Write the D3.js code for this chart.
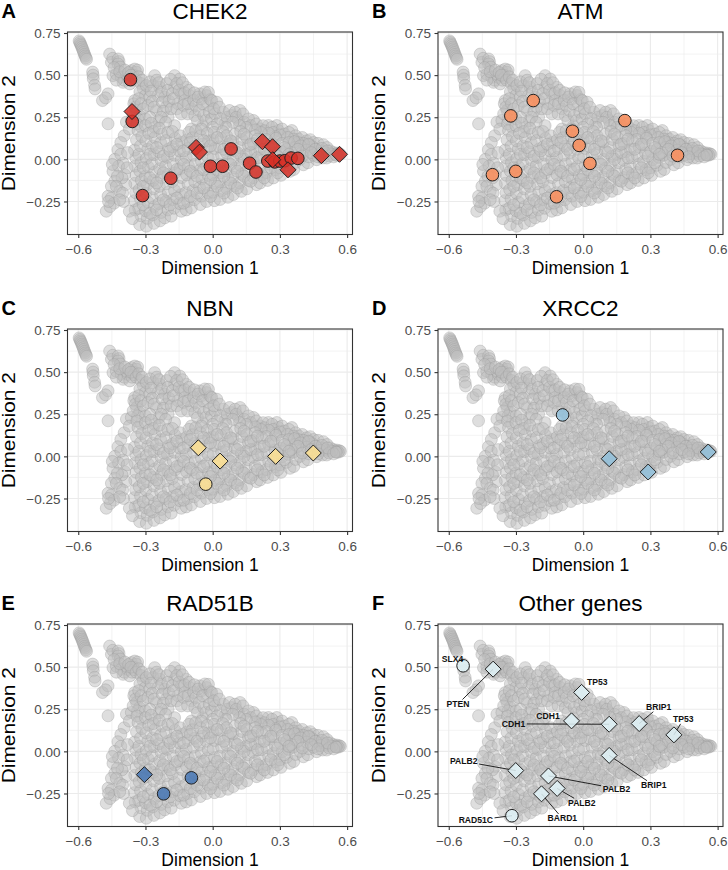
<!DOCTYPE html>
<html><head><meta charset="utf-8">
<script src="https://cdn.jsdelivr.net/npm/d3@7"></script>
<style>body{margin:0;background:#fff} svg{display:block;font-family:"Liberation Sans",Arial,Helvetica,sans-serif}</style>
</head><body>
<svg id="chart" width="728" height="870"></svg>
<script>
// ---------------- DATA ----------------
// background cloud (all genes), shared by every panel: [dimension1, dimension2]
const grayPoints = [
[-0.596,0.703],[-0.593,0.694],[-0.590,0.685],[-0.587,0.676],[-0.584,0.666],[-0.581,0.656],[-0.578,0.645],[-0.575,0.634],[-0.572,0.623],[-0.569,0.613],[-0.566,0.603],[-0.563,0.594],
[-0.536,0.518],[-0.534,0.500],[-0.533,0.478],[-0.527,0.440],[-0.525,0.418],[-0.492,0.349],[-0.467,0.389],[-0.478,0.365],[-0.467,0.211],
[-0.460,0.625],[-0.452,0.576],[-0.446,0.600],[-0.422,0.596],[-0.418,0.580],[-0.422,0.566],[-0.412,0.548],[-0.445,0.497],[-0.430,0.505],[-0.408,0.487],[-0.400,0.457],[-0.395,0.470],[-0.378,0.487],[-0.385,0.505],[-0.363,0.527],[-0.348,0.536],[-0.340,0.517],[-0.355,0.500],[-0.370,0.448],[-0.360,0.470],[-0.350,0.485],[-0.335,0.530],
[-0.440,0.545],[-0.430,0.470],[-0.415,0.520],[-0.392,0.530],[-0.375,0.515],[-0.365,0.500],[-0.342,0.470],[-0.330,0.490],[-0.320,0.450],[-0.310,0.420],[-0.325,0.400],[-0.300,0.380],[-0.315,0.470],
[-0.385,0.221],[-0.363,0.231],[-0.348,0.349],[-0.352,0.330],[-0.340,0.290],[-0.345,0.310],[-0.326,0.260],[-0.318,0.191],[-0.335,0.240],[-0.355,0.270],[-0.330,0.360],[-0.320,0.330],[-0.310,0.300],[-0.300,0.240],[-0.395,0.140],[-0.410,0.100],[-0.372,0.180],[-0.338,0.210],
[-0.296,0.438],[-0.259,0.497],[-0.266,0.438],[-0.281,0.369],[-0.289,0.320],[-0.236,0.428],[-0.244,0.379],[-0.251,0.290],[-0.214,0.369],[-0.207,0.310],[-0.199,0.251],[-0.170,0.497],[-0.147,0.477],[-0.170,0.428],[-0.140,0.389],[-0.155,0.330],[-0.118,0.428],[-0.103,0.379],[-0.125,0.349],[-0.095,0.300],[-0.058,0.389],[-0.051,0.359],[-0.028,0.379],[-0.021,0.320],[-0.044,0.200],[-0.095,0.180],[-0.170,0.200],[-0.259,0.190],[-0.333,0.170],
[-0.280,0.460],[-0.275,0.405],[-0.270,0.345],[-0.262,0.310],[-0.250,0.470],[-0.240,0.455],[-0.228,0.400],[-0.225,0.340],[-0.220,0.285],[-0.205,0.450],[-0.200,0.410],[-0.195,0.345],[-0.188,0.475],[-0.185,0.300],[-0.180,0.390],[-0.175,0.360],[-0.160,0.450],[-0.160,0.300],[-0.150,0.410],[-0.140,0.270],[-0.135,0.455],[-0.130,0.320],[-0.125,0.395],[-0.112,0.270],[-0.110,0.330],[-0.105,0.410],[-0.085,0.350],[-0.082,0.395],[-0.080,0.260],[-0.075,0.320],[-0.068,0.230],[-0.065,0.370],[-0.060,0.290],[-0.045,0.330],[-0.040,0.260],[-0.035,0.400],[-0.030,0.230],[-0.015,0.280],[-0.010,0.355],[-0.005,0.240],
[-0.240,0.230],[-0.230,0.250],[-0.210,0.220],[-0.280,0.250],[-0.300,0.200],[-0.275,0.215],
[-0.019,0.398],[-0.004,0.349],[0.018,0.339],[0.010,0.270],[0.048,0.280],[0.085,0.260],[0.122,0.290],[0.115,0.231],[0.055,0.211],[0.182,0.231],[0.211,0.181],[0.249,0.201],[0.286,0.201],[0.293,0.171],[0.353,0.171],[0.005,0.300],[0.030,0.310],[0.035,0.240],[0.065,0.250],[0.075,0.290],[0.100,0.280],[0.105,0.250],[0.135,0.270],[0.140,0.220],[0.160,0.240],[0.170,0.200],[0.195,0.210],[0.225,0.200],[0.230,0.170],[0.265,0.190],[0.270,0.160],[0.310,0.180],[0.320,0.150],[0.340,0.160],[0.370,0.140],[0.385,0.120],[0.400,0.130],[0.420,0.110],[0.435,0.117],[0.450,0.100],[0.470,0.095],[0.494,0.087],[0.510,0.070],[0.525,0.050],[0.540,0.040],[0.555,0.037],[0.565,0.033],[0.570,0.030],[0.560,0.025],[0.548,0.028],[0.532,0.030],[0.515,0.035],[0.500,0.040],[0.485,0.050],[0.460,0.060],[0.445,0.075],[0.430,0.085],[0.405,0.095],[0.380,0.100],[0.360,0.120],[0.335,0.130],[0.300,0.145],[0.280,0.135],[0.250,0.155],[0.215,0.160],[0.190,0.175],[0.150,0.190],[0.120,0.200],[0.090,0.220],[0.060,0.190],[0.020,0.210],[0.000,0.190],
[-0.346,-0.300],[-0.350,-0.245],[-0.344,-0.198],[-0.348,-0.142],[-0.342,-0.095],[-0.346,-0.040],[-0.343,0.008],[-0.349,0.055],[-0.340,0.115],
[-0.326,-0.387],[-0.320,-0.335],[-0.330,-0.290],[-0.322,-0.235],[-0.328,-0.180],[-0.318,-0.125],[-0.325,-0.070],[-0.320,-0.020],[-0.330,0.030],[-0.322,0.080],[-0.316,0.135],
[-0.296,-0.397],[-0.292,-0.350],[-0.300,-0.305],[-0.288,-0.255],[-0.298,-0.200],[-0.292,-0.150],[-0.300,-0.100],[-0.288,-0.045],[-0.296,0.005],[-0.290,0.060],[-0.298,0.110],[-0.285,0.155],
[-0.262,-0.380],[-0.268,-0.330],[-0.260,-0.280],[-0.270,-0.228],[-0.262,-0.175],[-0.266,-0.125],[-0.258,-0.075],[-0.270,-0.025],[-0.262,0.028],[-0.268,0.080],[-0.258,0.130],[-0.265,0.165],
[-0.235,-0.365],[-0.230,-0.315],[-0.240,-0.262],[-0.232,-0.210],[-0.238,-0.160],[-0.228,-0.108],[-0.236,-0.055],[-0.230,-0.005],[-0.240,0.045],[-0.232,0.098],[-0.226,0.150],[-0.238,0.185],
[-0.214,-0.347],[-0.200,-0.300],[-0.208,-0.250],[-0.198,-0.195],[-0.206,-0.145],[-0.200,-0.090],[-0.210,-0.040],[-0.202,0.012],[-0.196,0.062],[-0.208,0.112],[-0.200,0.160],
[-0.185,-0.337],[-0.172,-0.290],[-0.178,-0.238],[-0.170,-0.185],[-0.180,-0.132],[-0.168,-0.080],[-0.176,-0.028],[-0.170,0.025],[-0.178,0.075],[-0.168,0.125],[-0.180,0.165],
[-0.140,-0.308],[-0.148,-0.262],[-0.142,-0.210],[-0.150,-0.160],[-0.138,-0.108],[-0.146,-0.055],[-0.140,-0.002],[-0.148,0.050],[-0.138,0.100],[-0.145,0.140],
[-0.118,-0.300],[-0.112,-0.250],[-0.120,-0.198],[-0.110,-0.145],[-0.116,-0.092],[-0.108,-0.040],[-0.118,0.012],[-0.110,0.065],[-0.116,0.115],[-0.106,0.160],
[-0.095,-0.288],[-0.082,-0.240],[-0.088,-0.185],[-0.080,-0.132],[-0.090,-0.080],[-0.078,-0.028],[-0.086,0.025],[-0.080,0.078],[-0.090,0.128],[-0.076,0.170],
[-0.055,-0.268],[-0.050,-0.218],[-0.058,-0.168],[-0.048,-0.115],[-0.056,-0.062],[-0.050,-0.010],[-0.058,0.040],[-0.046,0.090],[-0.054,0.140],[-0.050,0.180],
[-0.027,-0.250],[-0.020,-0.200],[-0.028,-0.148],[-0.018,-0.095],[-0.026,-0.042],[-0.020,0.010],[-0.028,0.060],[-0.018,0.110],[-0.024,0.155],
[0.008,-0.245],[0.002,-0.195],[0.010,-0.142],[0.000,-0.090],[0.008,-0.038],[0.002,0.015],[0.010,0.065],[0.000,0.115],[0.006,0.160],
[0.033,-0.238],[0.040,-0.185],[0.030,-0.132],[0.038,-0.080],[0.032,-0.028],[0.040,0.025],[0.030,0.075],[0.038,0.125],[0.045,0.165],
[0.068,-0.225],[0.062,-0.172],[0.070,-0.120],[0.060,-0.068],[0.068,-0.015],[0.062,0.038],[0.070,0.090],[0.062,0.140],
[0.092,-0.209],[0.098,-0.158],[0.090,-0.105],[0.100,-0.052],[0.092,0.000],[0.098,0.052],[0.090,0.105],[0.100,0.150],
[0.128,-0.190],[0.120,-0.140],[0.130,-0.088],[0.122,-0.035],[0.128,0.018],[0.120,0.070],[0.130,0.118],[0.125,0.165],
[0.152,-0.175],[0.160,-0.125],[0.150,-0.072],[0.158,-0.020],[0.150,0.030],[0.160,0.082],[0.152,0.130],
[0.196,-0.150],[0.182,-0.108],[0.190,-0.058],[0.180,-0.005],[0.190,0.045],[0.182,0.095],[0.190,0.140],
[0.212,-0.140],[0.220,-0.092],[0.210,-0.042],[0.218,0.010],[0.210,0.060],[0.220,0.110],
[0.245,-0.125],[0.240,-0.078],[0.250,-0.028],[0.242,0.022],[0.250,0.072],[0.240,0.118],
[0.271,-0.110],[0.280,-0.062],[0.270,-0.012],[0.278,0.038],[0.270,0.088],[0.282,0.125],
[0.305,-0.095],[0.300,-0.050],[0.310,-0.002],[0.302,0.048],[0.310,0.095],
[0.345,-0.071],[0.330,-0.035],[0.338,0.012],[0.330,0.060],[0.340,0.100],
[0.362,-0.060],[0.370,-0.018],[0.360,0.025],[0.368,0.070],[0.365,0.105],
[0.405,-0.032],[0.390,0.000],[0.398,0.040],[0.392,0.080],
[0.425,-0.020],[0.430,0.015],[0.420,0.055],[0.428,0.090],
[0.464,-0.002],[0.450,0.025],[0.458,0.060],
[0.490,0.008],[0.480,0.035],[0.488,0.065],
[0.509,0.008],[0.520,0.020],[0.512,0.050],
[0.540,0.015],[0.552,0.025],
[-0.423,0.057],[-0.437,0.000],[-0.445,-0.071],[-0.437,-0.130],[-0.452,-0.160],[-0.467,-0.219],[-0.452,-0.229],[-0.475,-0.308],[-0.400,-0.022],[-0.393,-0.091],[-0.388,-0.150],[-0.415,-0.189],[-0.372,-0.308],[-0.358,-0.352],[-0.410,0.030],[-0.420,-0.040],[-0.405,-0.110],[-0.425,-0.100],[-0.430,-0.160],[-0.402,-0.200],[-0.440,-0.260],[-0.458,-0.280],[-0.398,-0.250],[-0.382,-0.050],[-0.380,0.040],[-0.448,-0.030],[-0.415,-0.240],[-0.465,-0.250],
[-0.310,-0.270],[-0.280,-0.320],[-0.250,-0.300],[-0.220,-0.240],[-0.190,-0.270],[-0.160,-0.230],[-0.130,-0.260],[-0.100,-0.220],[-0.070,-0.200],[-0.040,-0.170],[-0.010,-0.220],[0.020,-0.160],[0.050,-0.200],[0.080,-0.140],[0.110,-0.170],[0.140,-0.100],[0.170,-0.130],[0.200,-0.080],[0.230,-0.110],[0.260,-0.050],[0.290,-0.080],[0.320,-0.020],[0.350,0.040],[0.380,0.060],
[-0.310,-0.160],[-0.280,-0.110],[-0.250,-0.140],[-0.220,-0.080],[-0.190,-0.110],[-0.160,-0.060],[-0.130,-0.030],[-0.100,-0.070],[-0.070,-0.100],[-0.040,-0.060],[-0.010,-0.120],[0.020,-0.060],[0.050,-0.100],[0.080,-0.030],[0.110,-0.070],[0.140,0.000],[0.170,0.040],[0.200,0.010],[0.230,0.060],[0.260,0.090],[0.290,0.020],
[-0.310,-0.050],[-0.280,0.030],[-0.250,0.070],[-0.220,0.020],[-0.190,0.050],[-0.160,0.090],[-0.130,0.050],[-0.100,0.100],[-0.070,0.060],[-0.040,0.110],[-0.010,0.080],[0.020,0.130],[0.050,0.060],[0.080,0.110],[0.110,0.040],[0.140,0.150],[0.170,0.090],[0.200,0.120],[0.320,0.070],[0.340,0.030],[0.400,0.020],[0.440,0.040],[0.470,0.015]
];

const panelTitles  = ["CHEK2", "ATM", "NBN", "XRCC2", "RAD51B", "Other genes"];
const panelLetters = ["A", "B", "C", "D", "E", "F"];
const panelColors  = ["#d73027", "#fc8d59", "#fee090", "#91bfdb", "#4575b4", "#e0f3f8"];

// highlighted variants per gene: circles and diamonds [dimension1, dimension2]
const chek2Circles  = [[-0.367,0.473],[-0.359,0.225],[-0.313,-0.215],[-0.187,-0.112],[-0.010,-0.041],[0.044,-0.041],[0.082,0.062],[0.165,-0.023],[0.193,-0.075],[0.246,-0.010],[0.277,-0.015],[0.300,-0.010],[0.322,-0.008],[0.350,0.008],[0.380,0.006]];
const chek2Diamonds = [[-0.360,0.284],[-0.074,0.071],[-0.059,0.043],[0.222,0.105],[0.267,0.075],[0.268,-0.002],[0.336,-0.062],[0.485,0.022],[0.566,0.030]];
const atmCircles    = [[-0.223,0.349],[-0.323,0.258],[-0.048,0.167],[-0.018,0.083],[0.186,0.230],[0.030,-0.024],[0.421,0.024],[-0.405,-0.091],[-0.301,-0.071],[-0.119,-0.222]];
const atmDiamonds   = [];
const nbnCircles    = [[-0.031,-0.165]];
const nbnDiamonds   = [[-0.064,0.051],[0.033,-0.028],[0.281,0.000],[0.449,0.020]];
const xrcc2Circles  = [[-0.092,0.246]];
const xrcc2Diamonds = [[0.116,-0.014],[0.290,-0.093],[0.558,0.026]];
const rad51bCircles = [[-0.219,-0.252],[-0.095,-0.157]];
const rad51bDiamonds= [[-0.305,-0.138]];

// panel F: other genes, with label anchor positions (data units)
const otherGenes   = ["SLX4","RAD51C","PTEN","TP53","CDH1","CDH1","BRIP1","TP53","BRIP1","PALB2","PALB2","PALB2","BARD1"];
const otherShape   = ["circle","circle","diamond","diamond","diamond","diamond","diamond","diamond","diamond","diamond","diamond","diamond","diamond"];
const otherX       = [-0.536,-0.318,-0.402,-0.007,-0.052,0.116,0.250,0.405,0.116,-0.301,-0.155,-0.116,-0.186];
const otherY       = [0.508,-0.382,0.488,0.350,0.181,0.161,0.165,0.098,-0.024,-0.114,-0.146,-0.220,-0.252];
const otherLabelX  = [-0.583,-0.479,-0.559,0.0625,-0.157,-0.311,0.337,0.447,0.315,-0.533,0.149,-0.006,-0.093];
const otherLabelY  = [0.551,-0.408,0.281,0.409,0.207,0.163,0.262,0.190,-0.201,-0.059,-0.221,-0.305,-0.398];
const otherSegment = [false,true,true,false,false,true,true,true,true,true,true,true,true];

const xTicks = [-0.6, -0.3, 0, 0.3, 0.6];
const xTickLabels = ["\u22120.6", "\u22120.3", "0.0", "0.3", "0.6"];
const yTicks = [-0.25, 0, 0.25, 0.5, 0.75];
const yTickLabels = ["\u22120.25", "0.00", "0.25", "0.50", "0.75"];
const xTitle = "Dimension 1", yTitle = "Dimension 2";

// ---------------- DRAW ----------------
const svg = d3.select("#chart");
svg.append("rect").attr("width",728).attr("height",870).attr("fill","#fff");
const colLeft = [67.5, 438], rowTop = [32, 329, 624];
const plotW = 285, plotH = 202.5;
const xDom = [-0.648, 0.624], yDom = [-0.446, 0.756];

const highlight = [
  [chek2Circles, chek2Diamonds], [atmCircles, atmDiamonds], [nbnCircles, nbnDiamonds],
  [xrcc2Circles, xrcc2Diamonds], [rad51bCircles, rad51bDiamonds],
  [otherX.map((v,i)=>[v,otherY[i]]).filter((d,i)=>otherShape[i]==="circle"),
   otherX.map((v,i)=>[v,otherY[i]]).filter((d,i)=>otherShape[i]==="diamond")]
];
const mid = a => a.slice(1).map((v,i)=>(v+a[i])/2);
const diamond = s => `M0,${-s}L${s},0L0,${s}L${-s},0Z`;

panelTitles.forEach((title, i) => {
  const col = i % 2, row = Math.floor(i / 2);
  const L = colLeft[col], T = rowTop[row];
  const x = d3.scaleLinear().domain(xDom).range([0, plotW]);
  const y = d3.scaleLinear().domain(yDom).range([plotH, 0]);
  const g = svg.append("g").attr("transform", `translate(${L},${T})`);

  // grid
  const grid = g.append("g");
  grid.selectAll(".mx").data(mid(xTicks)).join("line").attr("x1",d=>x(d)).attr("x2",d=>x(d)).attr("y1",0).attr("y2",plotH).attr("stroke","#ebebeb").attr("stroke-width",0.6);
  grid.selectAll(".my").data(mid(yTicks)).join("line").attr("y1",d=>y(d)).attr("y2",d=>y(d)).attr("x1",0).attr("x2",plotW).attr("stroke","#ebebeb").attr("stroke-width",0.6);
  grid.selectAll(".Mx").data(xTicks).join("line").attr("x1",d=>x(d)).attr("x2",d=>x(d)).attr("y1",0).attr("y2",plotH).attr("stroke","#ebebeb").attr("stroke-width",1.1);
  grid.selectAll(".My").data(yTicks).join("line").attr("y1",d=>y(d)).attr("y2",d=>y(d)).attr("x1",0).attr("x2",plotW).attr("stroke","#ebebeb").attr("stroke-width",1.1);

  // background cloud
  g.append("g").selectAll("circle").data(grayPoints).join("circle")
    .attr("cx",d=>x(d[0])).attr("cy",d=>y(d[1])).attr("r",6)
    .attr("fill","#bdbdbd").attr("fill-opacity",0.5)
    .attr("stroke","#9a9a9a").attr("stroke-opacity",0.45).attr("stroke-width",0.8);

  const [circ, diam] = highlight[i];
  const color = panelColors[i];

  // labels + segments for panel F
  let labelLayer = null;
  if (i === 5) {
    const segLayer = g.append("g");
    labelLayer = g.append("g");
    otherGenes.forEach((name, k) => {
      const lx = x(otherLabelX[k]), ly = y(otherLabelY[k]);
      const px = x(otherX[k]), py = y(otherY[k]);
      const t = labelLayer.append("text").attr("x", lx).attr("y", ly).attr("dy","0.35em")
        .attr("text-anchor","middle").attr("font-size",8.6).attr("font-weight","bold").attr("fill","#111").text(name);
      if (!otherSegment[k]) return;
      const bb = t.node().getBBox();
      const hw = bb.width/2 + 1.5, hh = 4.5;
      const dx = px - lx, dy = py - ly;
      let tt = Infinity;
      if (dx !== 0) tt = Math.min(tt, hw/Math.abs(dx));
      if (dy !== 0) tt = Math.min(tt, hh/Math.abs(dy));
      if (tt < 1) {
        segLayer.append("line").attr("x1",lx + dx*tt).attr("y1",ly + dy*tt).attr("x2",px).attr("y2",py)
          .attr("stroke","#111").attr("stroke-width",0.9);
      }
    });
  }

  // highlighted points
  const hg = g.append("g");
  hg.selectAll("circle").data(circ).join("circle")
    .attr("cx",d=>x(d[0])).attr("cy",d=>y(d[1])).attr("r",6.3)
    .attr("fill",color).attr("fill-opacity",0.85).attr("stroke","#222").attr("stroke-width",1);
  hg.selectAll("path").data(diam).join("path")
    .attr("transform",d=>`translate(${x(d[0])},${y(d[1])})`).attr("d",diamond(8))
    .attr("fill",color).attr("fill-opacity",0.85).attr("stroke","#222").attr("stroke-width",1);
  if (labelLayer) labelLayer.raise();

  // border
  g.append("rect").attr("width",plotW).attr("height",plotH).attr("fill","none").attr("stroke","#333").attr("stroke-width",1.1);

  // axes
  const ax = g.append("g").attr("transform",`translate(0,${plotH})`)
    .call(d3.axisBottom(x).tickValues(xTicks).tickFormat((d,k)=>xTickLabels[k]).tickSize(3.5).tickSizeOuter(0));
  ax.select(".domain").remove();
  ax.selectAll("line").attr("stroke","#333").attr("stroke-width",1.1);
  ax.selectAll("text").attr("y",19.5).attr("dy",null).attr("fill","#4d4d4d").attr("font-size",13.5).attr("font-family",null);
  const ay = g.append("g")
    .call(d3.axisLeft(y).tickValues(yTicks).tickFormat((d,k)=>yTickLabels[k]).tickSize(3.5).tickSizeOuter(0));
  ay.select(".domain").remove();
  ay.selectAll("line").attr("stroke","#333").attr("stroke-width",1.1);
  ay.selectAll("text").attr("x",-7).attr("dy","0.35em").attr("fill","#4d4d4d").attr("font-size",13.5).attr("font-family",null);

  // titles
  const xTitleY = Math.min(plotH + 39.5, 866 - T);
  g.append("text").attr("x",plotW/2).attr("y",xTitleY).attr("text-anchor","middle").attr("font-size",17.5).attr("fill","#000").text(xTitle);
  g.append("text").attr("transform",`translate(-59,${plotH/2}) rotate(-90)`).attr("dy","0.35em").attr("text-anchor","middle")
    .attr("font-size",18).attr("textLength",116).attr("lengthAdjust","spacingAndGlyphs").attr("fill","#000").text(yTitle);
  g.append("text").attr("x",plotW/2).attr("y",-13).attr("text-anchor","middle").attr("font-size",22.5).attr("fill","#000").text(title);
  g.append("text").attr("x",-66).attr("y",-14).attr("font-size",20).attr("font-weight","bold").attr("fill","#000").text(panelLetters[i]);
});
</script>
</body></html>
